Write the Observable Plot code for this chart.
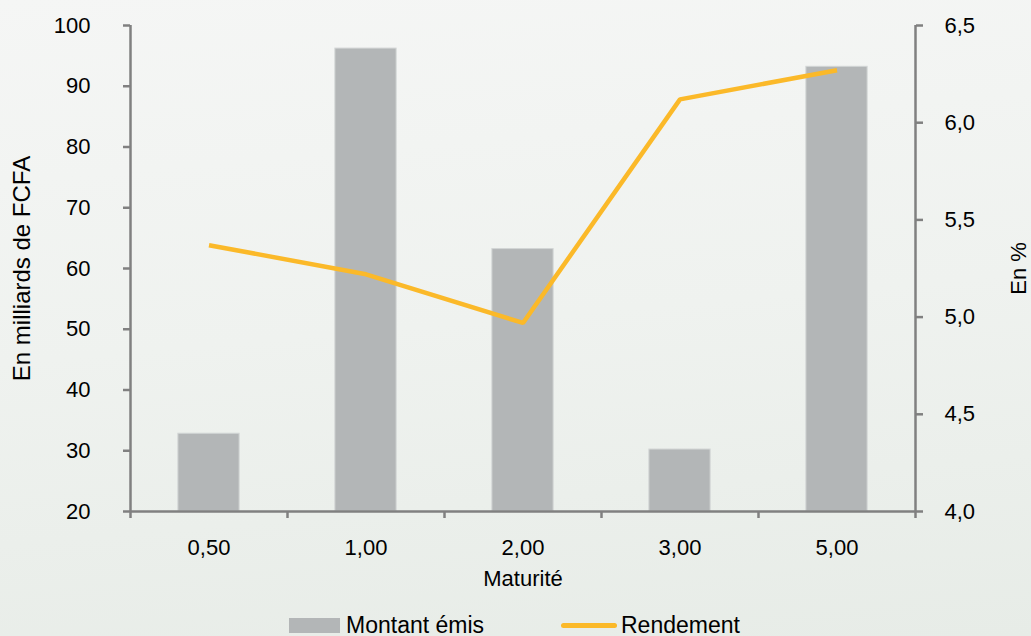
<!DOCTYPE html>
<html>
<head>
<meta charset="utf-8">
<script src="https://cdn.jsdelivr.net/npm/d3@7"></script>
<script src="https://cdn.jsdelivr.net/npm/@observablehq/plot@0.6"></script>
<style>
  html, body { margin: 0; padding: 0; }
  body {
    width: 1031px; height: 636px; overflow: hidden;
    background: linear-gradient(175deg, #f5f6f5 0%, #eff2ef 50%, #e7ece7 100%);
    font-family: "Liberation Sans", Arial, Helvetica, sans-serif;
  }
  #chart svg { display: block; background: transparent; }
  #legend {
    position: relative; height: 31px; font-size: 23px; color: #000;
  }
  .li { position: absolute; top: 7px; display: flex; align-items: center; }
  .sw-bar { width: 51px; height: 15px; background: #b3b6b7; margin-right: 6px; }
  .sw-line { width: 56px; height: 5px; background: #fbb929; border-radius: 3px; margin-right: 4px; }
</style>
</head>
<body>
<div id="chart"></div>
<div id="legend">
  <div class="li" style="left:289px"><div class="sw-bar"></div><span>Montant émis</span></div>
  <div class="li" style="left:561px"><div class="sw-line"></div><span>Rendement</span></div>
</div>
<script>
const maturites = ["0,50", "1,00", "2,00", "3,00", "5,00"];
const montants = [32.8, 96.2, 63.2, 30.2, 93.2];
const rendements = [5.37, 5.22, 4.97, 6.12, 6.27];
const leftTicks = [20, 30, 40, 50, 60, 70, 80, 90, 100];
const rightTicks = [4.0, 4.5, 5.0, 5.5, 6.0, 6.5];

const data = maturites.map((m, i) => ({i, m, montant: montants[i], rend: rendements[i]}));

// map right-axis (%) values onto the left y domain [20,100] <-> [4.0,6.5]
const toLeft = r => 20 + (r - 4.0) * (80 / 2.5);

const gray = "#808080";
const fmt1 = d => d.toFixed(1).replace(".", ",");
const boundaries = d3.range(0, maturites.length + 1).map(k => k - 0.5);

const chart = Plot.plot({
  width: 1031,
  height: 605,
  marginLeft: 130,
  marginRight: 116,
  marginTop: 25,
  marginBottom: 94,
  style: {fontFamily: "'Liberation Sans', Arial, Helvetica, sans-serif", fontSize: "22px", color: "#000", background: "transparent"},
  x: {type: "linear", domain: [-0.5, maturites.length - 0.5]},
  y: {domain: [20, 100]},
  marks: [
    Plot.rectY(data, {x1: d => d.i - 0.195, x2: d => d.i + 0.195, y1: 20, y2: "montant", fill: "#b3b6b7", stroke: "#d2d5d5", strokeWidth: 1}),
    Plot.line(data, {x: "i", y: d => toLeft(d.rend), stroke: "#fbb929", strokeWidth: 4.5, strokeLinecap: "butt", strokeLinejoin: "miter"}),
    Plot.ruleX([-0.5], {y1: 20, y2: 100, stroke: gray, strokeWidth: 2.5}),
    Plot.ruleX([maturites.length - 0.5], {y1: 20, y2: 100, stroke: gray, strokeWidth: 2.5}),
    Plot.ruleY([20], {stroke: gray, strokeWidth: 2.5}),
    Plot.axisY({anchor: "left", ticks: leftTicks, tickSize: 7, tickPadding: 33, stroke: gray, strokeWidth: 2.5, fontSize: 22, label: null}),
    Plot.axisY({anchor: "right", ticks: rightTicks.map(toLeft), tickFormat: v => fmt1(4.0 + (v - 20) * 2.5 / 80), tickSize: 7, tickPadding: 22, stroke: gray, strokeWidth: 2.5, fontSize: 22, label: null}),
    Plot.axisX({ticks: boundaries, tickSize: 7, tickFormat: () => "", stroke: gray, strokeWidth: 2.5, label: null}),
    Plot.axisX({ticks: data.map(d => d.i), tickSize: 0, tickPadding: 28, tickFormat: i => maturites[i], fontSize: 22, label: null}),
    Plot.text(["En milliards de FCFA"], {frameAnchor: "left", textAnchor: "middle", dx: -108, rotate: -90, fontSize: 24, fill: "#000"}),
    Plot.text(["En %"], {frameAnchor: "right", textAnchor: "middle", dx: 103, rotate: -90, fontSize: 22, fill: "#000"}),
    Plot.text(["Maturité"], {frameAnchor: "bottom", textAnchor: "middle", dy: 74, fontSize: 22, fill: "#000"})
  ]
});
document.getElementById("chart").appendChild(chart);
</script>
</body>
</html>
